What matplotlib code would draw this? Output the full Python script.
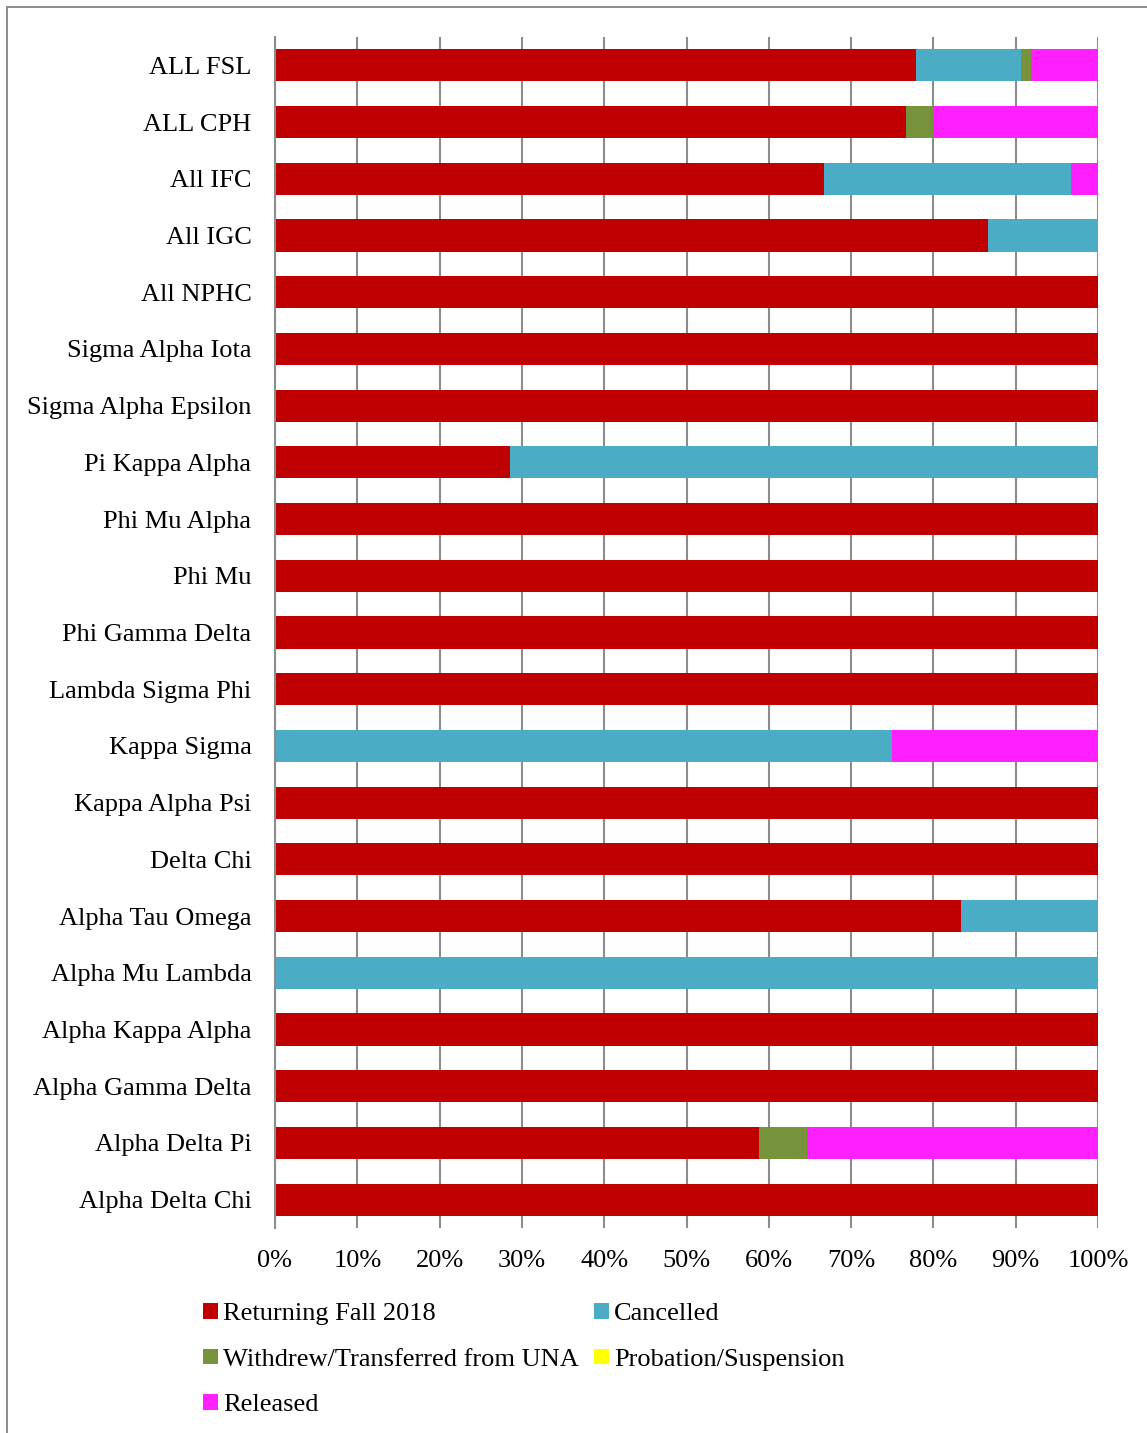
import matplotlib
matplotlib.use("Agg")
import matplotlib.pyplot as plt
from matplotlib.patches import Patch, Rectangle
import numpy as np

categories = ["ALL FSL", "ALL CPH", "All IFC", "All IGC", "All NPHC",
              "Sigma Alpha Iota", "Sigma Alpha Epsilon", "Pi Kappa Alpha",
              "Phi Mu Alpha", "Phi Mu", "Phi Gamma Delta", "Lambda Sigma Phi",
              "Kappa Sigma", "Kappa Alpha Psi", "Delta Chi", "Alpha Tau Omega",
              "Alpha Mu Lambda", "Alpha Kappa Alpha", "Alpha Gamma Delta",
              "Alpha Delta Pi", "Alpha Delta Chi"]

returning = [77.9, 76.7, 66.7, 86.6, 100, 100, 100, 28.6, 100, 100, 100, 100,
             0, 100, 100, 83.3, 0, 100, 100, 58.8, 100]
cancelled = [12.8, 0, 30.0, 13.4, 0, 0, 0, 71.4, 0, 0, 0, 0,
             75.0, 0, 0, 16.7, 100, 0, 0, 0, 0]
withdrew = [1.2, 3.3, 0, 0, 0, 0, 0, 0, 0, 0, 0, 0,
            0, 0, 0, 0, 0, 0, 0, 5.9, 0]
probation = [0] * 21
released = [8.1, 20.0, 3.3, 0, 0, 0, 0, 0, 0, 0, 0, 0,
            25.0, 0, 0, 0, 0, 0, 0, 35.3, 0]

series_names = ["Returning Fall 2018", "Cancelled", "Withdrew/Transferred from UNA",
                "Probation/Suspension", "Released"]
series = [returning, cancelled, withdrew, probation, released]
colors = ["#C00000", "#4BACC6", "#77933C", "#FFFF00", "#FF1FFF"]
xticks = [0, 10, 20, 30, 40, 50, 60, 70, 80, 90, 100]

plt.rcParams["font.family"] = ["Liberation Serif", "DejaVu Serif"]
FS = 19

W, H = 1147, 1433
fig = plt.figure(figsize=(W / 100, H / 100), dpi=100)
ax = fig.add_axes([275 / W, (H - 1228) / H, 823 / W, (1228 - 37) / H])

y = np.arange(len(categories))
left = np.zeros(len(categories))
for name, vals, c in zip(series_names, series, colors):
    vals = np.array(vals, dtype=float)
    ax.barh(y, vals, left=left, height=0.565, color=c, label=name, zorder=3)
    left += vals

ax.set_ylim(len(categories) - 0.5, -0.5)
ax.set_xlim(0, 100)
ax.set_yticks(y)
ax.set_yticklabels(categories, fontsize=FS)
ax.set_xticks(xticks)
ax.set_xticklabels([f"{t}%" for t in xticks], fontsize=FS)
ax.tick_params(axis="y", length=0, pad=17)
ax.tick_params(axis="x", length=0, pad=16)
ax.grid(axis="x", color="#8C8C8C", linewidth=1.5, zorder=0)
for s in ["top", "right", "bottom"]:
    ax.spines[s].set_visible(False)
ax.spines["left"].set_color("#8C8C8C")
ax.spines["left"].set_linewidth(1.5)
ax.spines["left"].set_zorder(4)

handles = [Patch(facecolor=c, edgecolor="none") for c in colors]
order = [0, 2, 4, 1, 3]
leg = fig.legend([handles[i] for i in order], [series_names[i] for i in order],
                 ncol=2, loc="upper left",
                 bbox_to_anchor=(203 / W, 1 - 1303 / H),
                 frameon=False, fontsize=FS, handlelength=0.55, handleheight=0.55,
                 handletextpad=0.2, columnspacing=0.6, labelspacing=0.88,
                 borderpad=0, borderaxespad=0)

fig.patches.append(Rectangle((7 / W, -0.05), 1.1, 1 - 7 / H + 0.05,
                             transform=fig.transFigure, fill=False,
                             edgecolor="#8C8C8C", linewidth=1.4))

fig.savefig("out.png", dpi=100)
